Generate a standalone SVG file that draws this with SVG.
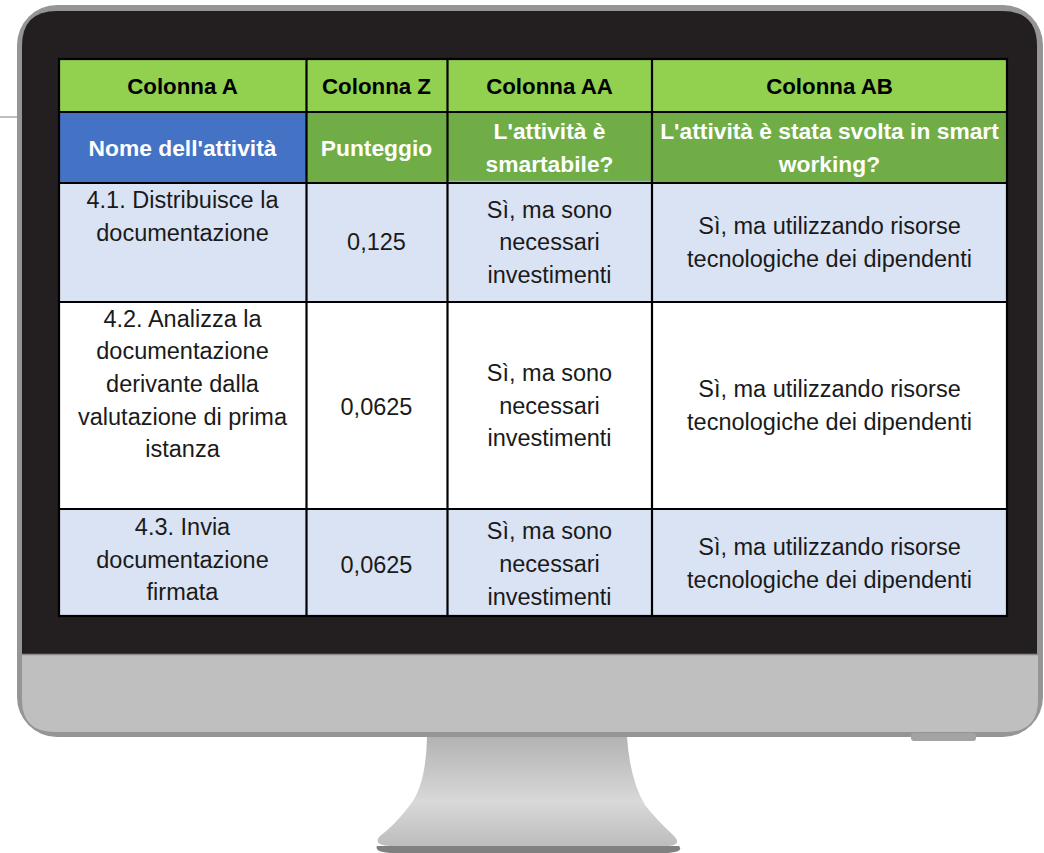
<svg xmlns="http://www.w3.org/2000/svg" width="1044" height="853" viewBox="0 0 1044 853">
<defs>
<linearGradient id="standGrad" x1="0" y1="737" x2="0" y2="845" gradientUnits="userSpaceOnUse">
<stop offset="0" stop-color="#b3b3b3"/>
<stop offset="0.45" stop-color="#cfcfcf"/>
<stop offset="0.6" stop-color="#d9d9d9"/>
<stop offset="1" stop-color="#bdbdbd"/>
</linearGradient>
<style>
.t{font-family:"Liberation Sans",Arial,sans-serif;font-size:23.5px;text-anchor:middle;fill:#1a1a1a}
.h1{font-family:"Liberation Sans",Arial,sans-serif;font-size:22.3px;font-weight:bold;text-anchor:middle;fill:#000}
.h2{font-family:"Liberation Sans",Arial,sans-serif;font-size:22.8px;font-weight:bold;text-anchor:middle;fill:#fff}
.grid{stroke:#000;stroke-width:2.2;fill:none}
</style>
</defs>
<rect width="1044" height="853" fill="#fff"/>
<line x1="0" y1="117" x2="17" y2="117" stroke="#7f7f7f" stroke-width="1"/>

<g id="monitor">
<rect x="17" y="5" width="1026" height="732" rx="40" fill="#959595"/>
<rect x="911" y="733" width="65" height="8" rx="3" fill="#a3a3a3"/>
<path d="M22,734 L22,654 L1038,654 L1038,700 Q1038,732 1006,732 L55,732 Q22,732 22,700 Z" fill="#bfbfbf"/>
<path d="M22,654 L22,46 Q22,11 57,11 L1002,11 Q1037,11 1037,46 L1037,654 Z" fill="#231f20"/>
<line x1="22" y1="654.5" x2="1038" y2="654.5" stroke="#8a8a8a" stroke-width="1.5"/>
</g>

<g id="stand">
<path d="M377,846 Q374,852 390,853 L668,853 Q684,852 679,846 Z" fill="#808080"/>
<path d="M427,737 Q426,785 410,805 Q395,825 380,836 Q372,845 390,846 L668,846 Q684,845 672,834 Q655,818 645,805 Q630,780 627,737 Z" fill="url(#standGrad)"/>
</g>

<g id="table">
<g id="cells">
<rect x="59" y="59" width="948" height="53" fill="#92d050"/>
<rect x="59" y="112" width="247.5" height="71" fill="#4472c4"/>
<rect x="306.5" y="112" width="700.5" height="71" fill="#70ad47"/>
<rect x="59" y="183" width="948" height="119" fill="#dae3f3"/>
<rect x="59" y="302" width="948" height="207" fill="#ffffff"/>
<rect x="59" y="509" width="948" height="107" fill="#dae3f3"/>
<line x1="448" y1="181.5" x2="652" y2="181.5" stroke="#8db3e2" stroke-width="1.5"/>
</g>
<g id="gridlines">
<rect class="grid" x="59" y="59" width="948" height="557"/>
<line class="grid" x1="59" y1="112" x2="1007" y2="112"/>
<line class="grid" x1="59" y1="183" x2="1007" y2="183"/>
<line class="grid" x1="59" y1="302" x2="1007" y2="302"/>
<line class="grid" x1="59" y1="509" x2="1007" y2="509"/>
<line class="grid" x1="306.5" y1="59" x2="306.5" y2="616"/>
<line class="grid" x1="447.5" y1="59" x2="447.5" y2="616"/>
<line class="grid" x1="652" y1="59" x2="652" y2="616"/>
</g>

<g id="header1">
<text class="h1" x="182.5" y="93.5">Colonna A</text>
<text class="h1" x="376.5" y="93.5">Colonna Z</text>
<text class="h1" x="549.5" y="93.5">Colonna AA</text>
<text class="h1" x="829.5" y="93.5">Colonna AB</text>
</g>
<g id="header2">
<text class="h2" x="182.5" y="156">Nome dell'attività</text>
<text class="h2" x="376.5" y="156">Punteggio</text>
<text class="h2" x="549.5" y="139">L'attività è</text>
<text class="h2" x="549.5" y="172">smartabile?</text>
<text class="h2" x="829.5" y="139">L'attività è stata svolta in smart</text>
<text class="h2" x="829.5" y="172">working?</text>
</g>

<g id="row1">
<text class="t" x="182.5" y="208">4.1. Distribuisce la</text>
<text class="t" x="182.5" y="241">documentazione</text>
<text class="t" x="376.5" y="250">0,125</text>
<text class="t" x="549.5" y="218">Sì, ma sono</text>
<text class="t" x="549.5" y="250">necessari</text>
<text class="t" x="549.5" y="283">investimenti</text>
<text class="t" x="829.5" y="234">Sì, ma utilizzando risorse</text>
<text class="t" x="829.5" y="267">tecnologiche dei dipendenti</text>
</g>

<g id="row2">
<text class="t" x="182.5" y="327">4.2. Analizza la</text>
<text class="t" x="182.5" y="359">documentazione</text>
<text class="t" x="182.5" y="392">derivante dalla</text>
<text class="t" x="182.5" y="425">valutazione di prima</text>
<text class="t" x="182.5" y="457">istanza</text>
<text class="t" x="376.5" y="415">0,0625</text>
<text class="t" x="549.5" y="381">Sì, ma sono</text>
<text class="t" x="549.5" y="414">necessari</text>
<text class="t" x="549.5" y="446">investimenti</text>
<text class="t" x="829.5" y="397">Sì, ma utilizzando risorse</text>
<text class="t" x="829.5" y="430">tecnologiche dei dipendenti</text>
</g>

<g id="row3">
<text class="t" x="182.5" y="535">4.3. Invia</text>
<text class="t" x="182.5" y="568">documentazione</text>
<text class="t" x="182.5" y="600">firmata</text>
<text class="t" x="376.5" y="573">0,0625</text>
<text class="t" x="549.5" y="539">Sì, ma sono</text>
<text class="t" x="549.5" y="572">necessari</text>
<text class="t" x="549.5" y="605">investimenti</text>
<text class="t" x="829.5" y="555">Sì, ma utilizzando risorse</text>
<text class="t" x="829.5" y="588">tecnologiche dei dipendenti</text>
</g>
</g>
</svg>
